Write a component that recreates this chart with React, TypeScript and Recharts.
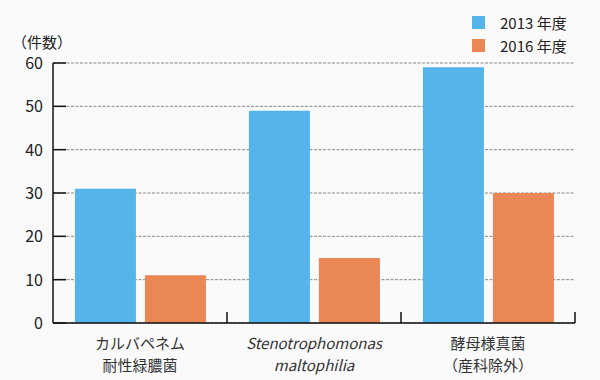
import React from 'react'
import { Bar, BarChart, CartesianGrid, XAxis, YAxis } from 'recharts'

const categories = [
  ['カルバペネム', '耐性緑膿菌'],
  ['Stenotrophomonas', 'maltophilia'],
  ['酵母様真菌', '（産科除外）'],
]
const italicCategory = [false, true, false]
const values2013 = [31, 49, 59]
const values2016 = [11, 15, 30]
const yTicks = [0, 10, 20, 30, 40, 50, 60]
const seriesNames = ['2013 年度', '2016 年度']
const seriesColors = ['#55b5ea', '#ea8755']

const data = categories.map((lines, i) => ({
  name: lines.join('\n'),
  y2013: values2013[i],
  y2016: values2016[i],
}))

const FONT = '"Noto Sans CJK JP", "Noto Sans", sans-serif'

function YTick(props: any) {
  const { x, y, payload } = props
  return (
    <g>
      <line x1={x + 8} x2={x + 21} y1={y} y2={y} stroke="#111" strokeWidth={1.5} />
      <text x={x - 2} y={y} dy={6} textAnchor="end" fontSize={16} fill="#222" fontFamily={FONT}>
        {payload.value}
      </text>
    </g>
  )
}

function XTick(props: any) {
  const { x, y, payload, index, width, visibleTicksCount } = props
  const band = width / (visibleTicksCount || 3)
  const lines = categories[index] || String(payload.value).split('\n')
  const italic = italicCategory[index]
  return (
    <g>
      <line x1={x + band / 2} x2={x + band / 2} y1={y} y2={y - 11} stroke="#111" strokeWidth={1.5} />
      {lines.map((line, i) => (
        <text
          key={i}
          x={x}
          y={y + 26 + i * 22}
          textAnchor="middle"
          fontSize={15}
          fill="#333"
          fontStyle={italic ? 'italic' : 'normal'}
          fontFamily={FONT}
        >
          {line}
        </text>
      ))}
    </g>
  )
}

export default function App() {
  return (
    <div style={{ position: 'absolute', left: 0, top: 0, width: 600, height: 380, background: '#fafafa' }}>
      <div style={{ position: 'absolute', left: 12, top: 31, fontFamily: FONT, fontSize: 15, color: '#222' }}>
        （件数）
      </div>
      <div style={{ position: 'absolute', left: 472, top: 11, fontFamily: FONT, fontSize: 15, color: '#222' }}>
        {seriesNames.map((n, i) => (
          <div key={n} style={{ display: 'flex', alignItems: 'center', height: 23 }}>
            <span style={{ display: 'inline-block', width: 13, height: 13, background: seriesColors[i], marginRight: 15 }} />
            <span>{n}</span>
          </div>
        ))}
      </div>
      <BarChart
        width={600}
        height={380}
        data={data}
        margin={{ top: 63, right: 25, left: 0, bottom: 0 }}
        barCategoryGap="12.6%"
        barGap={9}
      >
        <CartesianGrid vertical={false} stroke="#888" strokeDasharray="3 1.5" />
        <XAxis
          dataKey="name"
          height={57}
          tick={<XTick />}
          tickLine={false}
          tickSize={0}
          tickMargin={0}
          axisLine={{ stroke: '#111', strokeWidth: 1.5 }}
          interval={0}
        />
        <YAxis
          width={53}
          domain={[0, 60]}
          ticks={yTicks}
          tick={<YTick />}
          tickLine={false}
          tickSize={0}
          tickMargin={8}
          axisLine={{ stroke: '#111', strokeWidth: 1.5 }}
        />
        <Bar dataKey="y2013" name={seriesNames[0]} fill={seriesColors[0]} isAnimationActive={false} />
        <Bar dataKey="y2016" name={seriesNames[1]} fill={seriesColors[1]} isAnimationActive={false} />
      </BarChart>
    </div>
  )
}
